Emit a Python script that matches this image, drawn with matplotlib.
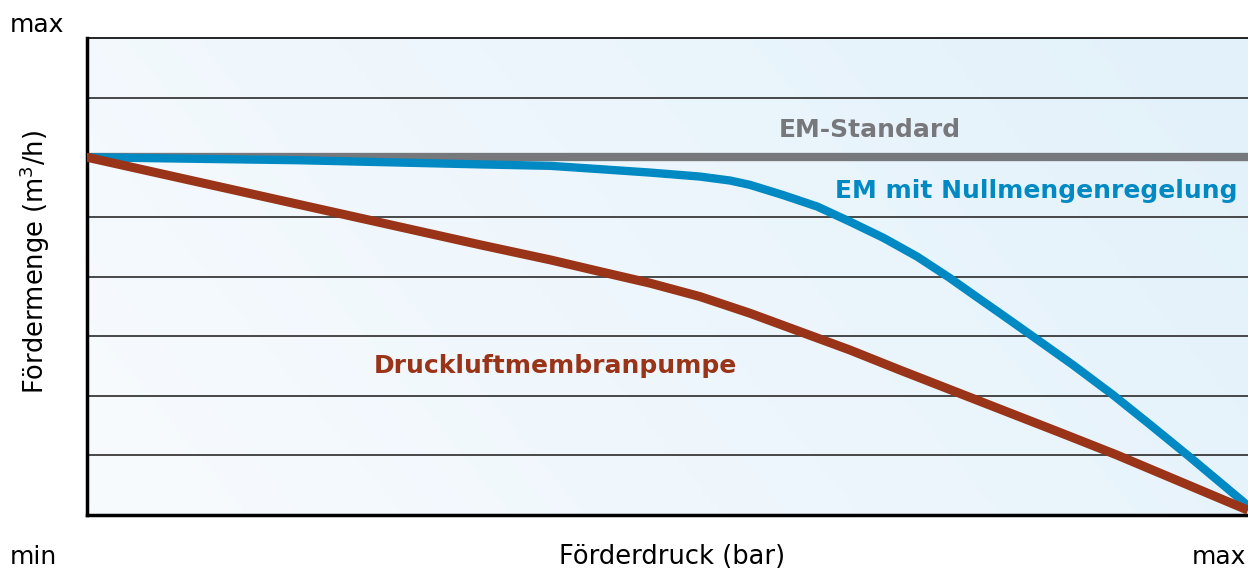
import numpy as np
import matplotlib.pyplot as plt
from matplotlib.colors import LinearSegmentedColormap

# curve data in grid units (x: 0=min .. 1=max pressure, y: 0..8 grid rows)
standard_x = [0.0, 1.0]
standard_y = [6.0, 6.0]

nullmenge_x = [0.0, 0.183, 0.339, 0.399, 0.442, 0.485, 0.528, 0.554, 0.571, 0.599,
               0.629, 0.657, 0.686, 0.715, 0.743, 0.772, 0.786, 0.815, 0.849, 0.884,
               0.916, 0.950, 0.996, 1.0]
nullmenge_y = [6.0, 5.95, 5.88, 5.856, 5.80, 5.743, 5.676, 5.609, 5.537, 5.369,
               5.173, 4.921, 4.648, 4.334, 3.977, 3.579, 3.389, 2.99, 2.52, 2.01,
               1.51, 0.97, 0.22, 0.15]

druckluft_x = [0.0, 0.339, 0.399, 0.442, 0.485, 0.528, 0.571, 0.614, 0.657, 0.700,
               0.743, 0.786, 0.838, 0.887, 1.0]
druckluft_y = [6.0, 4.53, 4.279, 4.082, 3.888, 3.663, 3.384, 3.076, 2.768, 2.433,
               2.106, 1.779, 1.384, 1.007, 0.08]

grid_rows = [1, 2, 3, 4, 5, 6, 7]

c_gray = "#77787c"
c_blue = "#0089c2"
c_red = "#9a3419"

fig = plt.figure(figsize=(12.48, 5.69), dpi=100)
ax = fig.add_axes([87 / 1248, 54 / 569, 1161 / 1248, 477 / 569])
ax.set_xlim(0, 1)
ax.set_ylim(0, 8)

# light blue gradient background
gx, gy = np.meshgrid(np.linspace(0, 1, 300), np.linspace(0, 1, 150))
grad = 0.75 * gx + 0.25 * gy
cmap = LinearSegmentedColormap.from_list("bg", ["#f8fbfe", "#e2f1fa"])
ax.imshow(grad, extent=[0, 1, 0, 8], origin="lower", aspect="auto", cmap=cmap, zorder=0)

for r in grid_rows:
    ax.axhline(r, color="#2a2a2a", lw=1.2, zorder=1)

ax.plot(standard_x, standard_y, color=c_gray, lw=6, zorder=2, solid_capstyle="butt")
ax.plot(nullmenge_x, nullmenge_y, color=c_blue, lw=6, zorder=3,
        solid_capstyle="butt", solid_joinstyle="round")
ax.plot(druckluft_x, druckluft_y, color=c_red, lw=6.5, zorder=4,
        solid_capstyle="butt", solid_joinstyle="round")

ax.text(0.674, 6.45, "EM-Standard", color=c_gray, fontsize=18, fontweight="bold",
        ha="center", va="center", zorder=5)
ax.text(0.991, 5.43, "EM mit Nullmengenregelung", color=c_blue, fontsize=18,
        fontweight="bold", ha="right", va="center", zorder=5)
ax.text(0.403, 2.5, "Druckluftmembranpumpe", color=c_red, fontsize=18,
        fontweight="bold", ha="center", va="center", zorder=5)

ax.set_xticks([])
ax.set_yticks([])
ax.spines["right"].set_visible(False)
ax.spines["top"].set_linewidth(1.2)
ax.spines["left"].set_linewidth(2.5)
ax.spines["bottom"].set_linewidth(2.5)

fig.text(10 / 1248, 1 - 25 / 569, "max", fontsize=18, ha="left", va="center")
fig.text(10 / 1248, 1 - 557 / 569, "min", fontsize=18, ha="left", va="center")
fig.text(1246 / 1248, 1 - 557 / 569, "max", fontsize=18, ha="right", va="center")
fig.text(672 / 1248, 1 - 557 / 569, "Förderdruck (bar)", fontsize=18.5, ha="center", va="center")
fig.text(35 / 1248, 1 - 262 / 569, "Fördermenge (m$^3$/h)", fontsize=18.5, rotation=90,
         ha="center", va="center")

fig.savefig("out.png", dpi=100)
